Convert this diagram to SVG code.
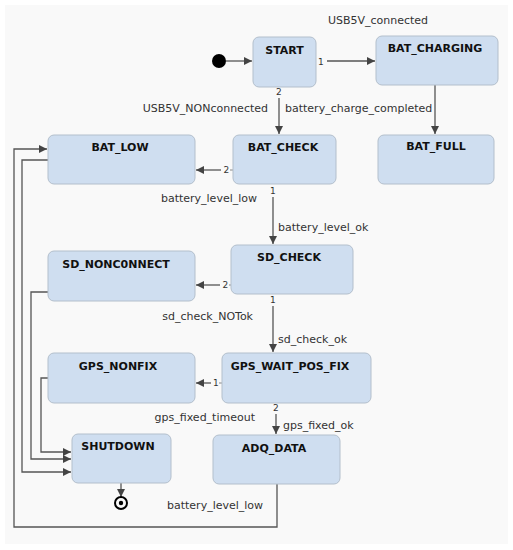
<svg xmlns="http://www.w3.org/2000/svg" width="513" height="550" viewBox="0 0 513 550">
<style>
.node rect{fill:#cfdef0;stroke:#b3bfcc;stroke-width:1}
.title{font-family:"DejaVu Sans",Verdana,sans-serif;font-weight:bold;font-size:11px;fill:#111;text-anchor:middle}
.lbl{font-family:"DejaVu Sans",Verdana,sans-serif;font-size:11px;fill:#333}
.num{font-family:"DejaVu Sans",Verdana,sans-serif;font-size:9px;fill:#333}
.edge{fill:none;stroke:#555;stroke-width:1.3}
.stub{fill:none;stroke:#888;stroke-width:1}
</style>
<defs>
<marker id="ah" viewBox="0 0 10 10" refX="10" refY="5" markerWidth="8" markerHeight="8" markerUnits="userSpaceOnUse" orient="auto">
<path d="M0,0 L10,5 L0,10 z" fill="#444"/>
</marker>
</defs>
<rect x="0" y="0" width="513" height="550" fill="#ffffff"/>
<rect x="5" y="5" width="503" height="539" fill="#f9f9f9"/>

<g id="connectors">
<path class="edge" d="M226,61 H252" marker-end="url(#ah)"/>
<path class="edge" d="M327,61 H375" marker-end="url(#ah)"/>
<path class="edge" d="M279,98 V134" marker-end="url(#ah)"/>
<path class="edge" d="M435,85 V134" marker-end="url(#ah)"/>
<path class="edge" d="M221,170 H196" marker-end="url(#ah)"/>
<path class="stub" d="M230,170 H233"/>
<path class="edge" d="M273,197 V244" marker-end="url(#ah)"/>
<path class="edge" d="M220,285 H196" marker-end="url(#ah)"/>
<path class="stub" d="M229,285 H231"/>
<path class="edge" d="M273,306 V352" marker-end="url(#ah)"/>
<path class="edge" d="M211,383 H196" marker-end="url(#ah)"/>
<path class="stub" d="M219,383 H222"/>
<path class="edge" d="M276,414 V434" marker-end="url(#ah)"/>
<path class="edge" d="M48,378 H41 V452 H71" marker-end="url(#ah)"/>
<path class="edge" d="M48,292 H31 V459 H71" marker-end="url(#ah)"/>
<path class="edge" d="M48,160 H22 V472 H71" marker-end="url(#ah)"/>
<path class="edge" d="M277,484 V527 H14 V149 H47" marker-end="url(#ah)"/>
<path class="edge" d="M121,483 V497" marker-end="url(#ah)"/>
<text class="num" x="318" y="65">1</text>
<text class="num" x="276" y="95">2</text>
<text class="num" x="223.5" y="173">2</text>
<text class="num" x="270" y="194">1</text>
<text class="num" x="222.5" y="288">2</text>
<text class="num" x="270" y="303">1</text>
<text class="num" x="213" y="386">1</text>
<text class="num" x="273" y="411">2</text>
<text class="lbl" x="378" y="24" text-anchor="middle">USB5V_connected</text>
<text class="lbl" x="268" y="112" text-anchor="end">USB5V_NONconnected</text>
<text class="lbl" x="285" y="112">battery_charge_completed</text>
<text class="lbl" x="257" y="202" text-anchor="end">battery_level_low</text>
<text class="lbl" x="278" y="231">battery_level_ok</text>
<text class="lbl" x="253" y="320" text-anchor="end">sd_check_NOTok</text>
<text class="lbl" x="278" y="343">sd_check_ok</text>
<text class="lbl" x="255" y="421" text-anchor="end">gps_fixed_timeout</text>
<text class="lbl" x="283" y="429">gps_fixed_ok</text>
<text class="lbl" x="167" y="509">battery_level_low</text>
</g>

<g id="initial"><circle cx="219" cy="61" r="7" fill="#000"/></g>
<g id="final"><circle cx="121" cy="503" r="6" fill="none" stroke="#000" stroke-width="2"/><circle cx="121" cy="503" r="2.2" fill="#000"/></g>

<g id="START" class="node"><rect x="253" y="37" width="63" height="50" rx="6"/><text class="title" x="284.5" y="54">START</text></g>
<g id="BAT_CHARGING" class="node"><rect x="376" y="36" width="122" height="49" rx="6"/><text class="title" x="435" y="52">BAT_CHARGING</text></g>
<g id="BAT_LOW" class="node"><rect x="48" y="135" width="147" height="49" rx="6"/><text class="title" x="120" y="151">BAT_LOW</text></g>
<g id="BAT_CHECK" class="node"><rect x="233" y="135" width="103" height="49" rx="6"/><text class="title" x="283" y="151">BAT_CHECK</text></g>
<g id="BAT_FULL" class="node"><rect x="378" y="135" width="116" height="49" rx="6"/><text class="title" x="436" y="150">BAT_FULL</text></g>
<g id="SD_NONCONNECT" class="node"><rect x="48" y="251" width="147" height="50" rx="6"/><text class="title" x="116" y="268">SD_NONC0NNECT</text></g>
<g id="SD_CHECK" class="node"><rect x="231" y="245" width="122" height="49" rx="6"/><text class="title" x="289" y="261">SD_CHECK</text></g>
<g id="GPS_NONFIX" class="node"><rect x="48" y="353" width="147" height="50" rx="6"/><text class="title" x="118" y="370">GPS_NONFIX</text></g>
<g id="GPS_WAIT_POS_FIX" class="node"><rect x="222" y="353" width="149" height="50" rx="6"/><text class="title" x="290" y="370">GPS_WAIT_POS_FIX</text></g>
<g id="SHUTDOWN" class="node"><rect x="72" y="434" width="99" height="49" rx="6"/><text class="title" x="118" y="450">SHUTDOWN</text></g>
<g id="ADQ_DATA" class="node"><rect x="213" y="435" width="127" height="49" rx="6"/><text class="title" x="274" y="452">ADQ_DATA</text></g>
</svg>
